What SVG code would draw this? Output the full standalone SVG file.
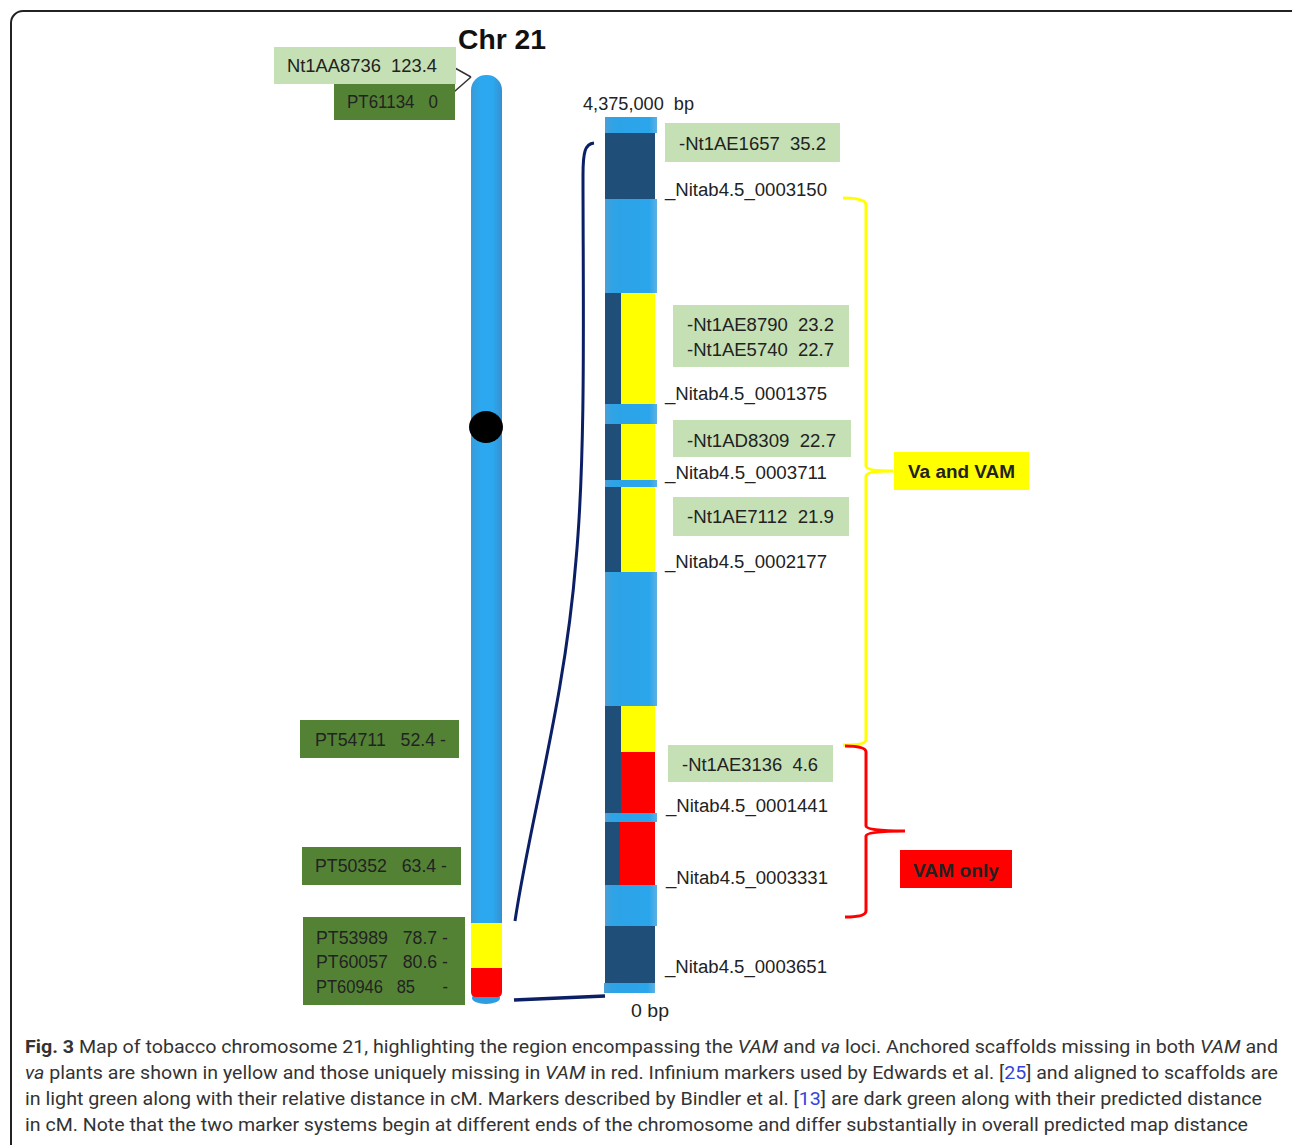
<svg xmlns="http://www.w3.org/2000/svg" width="1292" height="1145" viewBox="0 0 1292 1145">
<defs>
<linearGradient id="chrGrad" x1="0" y1="0" x2="1" y2="0">
<stop offset="0" stop-color="#3a9ad9"/><stop offset="0.3" stop-color="#2ba8f0"/><stop offset="0.7" stop-color="#2ba8f0"/><stop offset="1" stop-color="#3590cf"/>
</linearGradient>
<linearGradient id="bandGrad" x1="0" y1="0" x2="1" y2="0">
<stop offset="0" stop-color="#4b9fd6"/><stop offset="0.15" stop-color="#2ea3e6"/><stop offset="0.85" stop-color="#2aa5ec"/><stop offset="1" stop-color="#5db0e2"/>
</linearGradient>
<style>
text{white-space:pre}
.lbl{font-family:"Liberation Sans",Arial,sans-serif;font-size:18px;fill:#222}
.lg{fill:#c5e0b4}
.dg{fill:#548235}
.navy{fill:#1f4e79}
.lb{fill:url(#bandGrad)}
.yel{fill:#ffff00}
.red{fill:#ff0000}
.bold{font-family:"Liberation Sans",Arial,sans-serif;font-size:18px;font-weight:bold;fill:#222}
.cap{font-family:Roboto,"Liberation Sans",sans-serif;font-size:19px;fill:#333}
.it{font-style:italic}
.ref{fill:#3344dd}
</style>
</defs>
<rect x="11" y="11" width="1300" height="1160" rx="12" fill="none" stroke="#222" stroke-width="2"/>

<g id="title"><text x="458" y="49" font-family="Liberation Sans,Arial,sans-serif" font-size="28" font-weight="bold" fill="#111" textLength="88" lengthAdjust="spacingAndGlyphs">Chr 21</text></g>

<g id="chromosome-left">
<rect x="471" y="75" width="31" height="925" rx="15" fill="url(#chrGrad)"/>
<ellipse cx="486" cy="998" rx="14" ry="6" fill="#2f9be0"/>
<rect x="471" y="923" width="31" height="45" class="yel"/>
<path d="M471 968H502V992Q502 997 497 997H476Q471 997 471 992Z" class="red"/>
<ellipse cx="486" cy="427" rx="17" ry="16" fill="#000"/>
</g>

<g id="band-right">
<rect x="605" y="117" width="52" height="16" class="lb"/>
<rect x="605" y="133" width="50" height="66" class="navy"/>
<rect x="605" y="199" width="52" height="94" class="lb"/>
<rect x="605" y="293" width="16" height="111" class="navy"/>
<rect x="621" y="293" width="34" height="111" class="yel"/>
<rect x="605" y="404" width="52" height="20" class="lb"/>
<rect x="605" y="424" width="16" height="56" class="navy"/>
<rect x="621" y="424" width="34" height="56" class="yel"/>
<rect x="605" y="480" width="52" height="7" class="lb"/>
<rect x="605" y="487" width="16" height="85" class="navy"/>
<rect x="621" y="487" width="34" height="85" class="yel"/>
<rect x="605" y="572" width="52" height="134" class="lb"/>
<rect x="605" y="706" width="16" height="46" class="navy"/>
<rect x="621" y="706" width="34" height="46" class="yel"/>
<rect x="605" y="752" width="16" height="61" class="navy"/>
<rect x="621" y="752" width="34" height="61" class="red"/>
<rect x="605" y="813" width="52" height="9" class="lb"/>
<rect x="605" y="822" width="15" height="63" class="navy"/>
<rect x="620" y="822" width="35" height="63" class="red"/>
<rect x="605" y="885" width="52" height="41" class="lb"/>
<rect x="605" y="926" width="50" height="57" class="navy"/>
<rect x="604" y="983" width="51" height="10" class="lb"/>
</g>

<g id="connectors" fill="none">
<path d="M446 63L471 77M447 98L471 77" stroke="#333" stroke-width="1.5"/>
<path d="M594 143C585 144 583 152 583 175C583 300 586 450 576 560C565 700 530 820 515 921" stroke="#0b1f66" stroke-width="3"/>
<path d="M514 1000L605 996" stroke="#0b1f66" stroke-width="3.5"/>
<path d="M843 198Q866 198 866 205V466Q866 471 893 471Q866 471 866 476V740Q866 745 843 745" stroke="#ffff00" stroke-width="3"/>
<path d="M845 746Q866 746 866 752V826Q866 831 905 831Q866 831 866 836V911Q866 917 845 917" stroke="#ff0000" stroke-width="3"/>
</g>

<g id="m-Nt1AA8736"><rect x="274" y="47" width="182" height="37" class="lg"/><text x="287" y="72" class="lbl" textLength="150" lengthAdjust="spacingAndGlyphs">Nt1AA8736  123.4</text></g>
<g id="m-PT61134"><rect x="334" y="84" width="121" height="36" class="dg"/><text x="347" y="108" class="lbl" textLength="91" lengthAdjust="spacingAndGlyphs">PT61134   0</text></g>
<g id="m-PT54711"><rect x="300" y="720" width="159" height="38" class="dg"/><text x="315" y="746" class="lbl" textLength="131" lengthAdjust="spacingAndGlyphs">PT54711   52.4 -</text></g>
<g id="m-PT50352"><rect x="302" y="847" width="159" height="38" class="dg"/><text x="315" y="872" class="lbl" textLength="132" lengthAdjust="spacingAndGlyphs">PT50352   63.4 -</text></g>
<g id="m-PT53989"><rect x="303" y="917" width="162" height="88" class="dg"/>
<text x="316" y="944" class="lbl" textLength="132" lengthAdjust="spacingAndGlyphs">PT53989   78.7 -</text>
<text x="316" y="968" class="lbl" textLength="132" lengthAdjust="spacingAndGlyphs">PT60057   80.6 -</text>
<text x="316" y="993" class="lbl" textLength="132" lengthAdjust="spacingAndGlyphs">PT60946   85      -</text></g>

<g id="bp-labels">
<text x="583" y="110" class="lbl" textLength="111" lengthAdjust="spacingAndGlyphs">4,375,000  bp</text>
<text x="631" y="1017" class="lbl" textLength="38" lengthAdjust="spacingAndGlyphs">0 bp</text>
</g>

<g id="m-Nt1AE1657"><rect x="665" y="123" width="175" height="39" class="lg"/><text x="679" y="150" class="lbl" textLength="147" lengthAdjust="spacingAndGlyphs">-Nt1AE1657  35.2</text></g>
<g id="s-0003150"><text x="665" y="196" class="lbl" textLength="162" lengthAdjust="spacingAndGlyphs">_Nitab4.5_0003150</text></g>
<g id="m-Nt1AE8790"><rect x="673" y="305" width="176" height="62" class="lg"/><text x="687" y="331" class="lbl" textLength="147" lengthAdjust="spacingAndGlyphs">-Nt1AE8790  23.2</text><text x="687" y="356" class="lbl" textLength="147" lengthAdjust="spacingAndGlyphs">-Nt1AE5740  22.7</text></g>
<g id="s-0001375"><text x="665" y="400" class="lbl" textLength="162" lengthAdjust="spacingAndGlyphs">_Nitab4.5_0001375</text></g>
<g id="m-Nt1AD8309"><rect x="673" y="420" width="178" height="37" class="lg"/><text x="687" y="447" class="lbl" textLength="149" lengthAdjust="spacingAndGlyphs">-Nt1AD8309  22.7</text></g>
<g id="s-0003711"><text x="665" y="479" class="lbl" textLength="162" lengthAdjust="spacingAndGlyphs">_Nitab4.5_0003711</text></g>
<g id="m-Nt1AE7112"><rect x="673" y="497" width="176" height="39" class="lg"/><text x="687" y="523" class="lbl" textLength="147" lengthAdjust="spacingAndGlyphs">-Nt1AE7112  21.9</text></g>
<g id="s-0002177"><text x="665" y="568" class="lbl" textLength="162" lengthAdjust="spacingAndGlyphs">_Nitab4.5_0002177</text></g>
<g id="m-Nt1AE3136"><rect x="668" y="745" width="165" height="37" class="lg"/><text x="682" y="771" class="lbl" textLength="136" lengthAdjust="spacingAndGlyphs">-Nt1AE3136  4.6</text></g>
<g id="s-0001441"><text x="666" y="812" class="lbl" textLength="162" lengthAdjust="spacingAndGlyphs">_Nitab4.5_0001441</text></g>
<g id="s-0003331"><text x="666" y="884" class="lbl" textLength="162" lengthAdjust="spacingAndGlyphs">_Nitab4.5_0003331</text></g>
<g id="s-0003651"><text x="665" y="973" class="lbl" textLength="162" lengthAdjust="spacingAndGlyphs">_Nitab4.5_0003651</text></g>

<g id="va-vam"><rect x="894" y="452" width="135" height="38" class="yel"/><text x="908" y="478" class="bold" textLength="107" lengthAdjust="spacingAndGlyphs">Va and VAM</text></g>
<g id="vam-only"><rect x="900" y="850" width="112" height="38" class="red"/><text x="913" y="877" class="bold" textLength="86" lengthAdjust="spacingAndGlyphs">VAM only</text></g>

<g id="caption">
<text x="25" y="1053" class="cap" textLength="1253" lengthAdjust="spacingAndGlyphs"><tspan font-weight="bold">Fig. 3</tspan> Map of tobacco chromosome 21, highlighting the region encompassing the <tspan class="it">VAM</tspan> and <tspan class="it">va</tspan> loci. Anchored scaffolds missing in both <tspan class="it">VAM</tspan> and</text>
<text x="25" y="1079" class="cap" textLength="1253" lengthAdjust="spacingAndGlyphs"><tspan class="it">va</tspan> plants are shown in yellow and those uniquely missing in <tspan class="it">VAM</tspan> in red. Infinium markers used by Edwards et al. [<tspan class="ref">25</tspan>] and aligned to scaffolds are</text>
<text x="25" y="1105" class="cap" textLength="1237" lengthAdjust="spacingAndGlyphs">in light green along with their relative distance in cM. Markers described by Bindler et al. [<tspan class="ref">13</tspan>] are dark green along with their predicted distance</text>
<text x="25" y="1131" class="cap" textLength="1223" lengthAdjust="spacingAndGlyphs">in cM. Note that the two marker systems begin at different ends of the chromosome and differ substantially in overall predicted map distance</text>
</g>
</svg>
